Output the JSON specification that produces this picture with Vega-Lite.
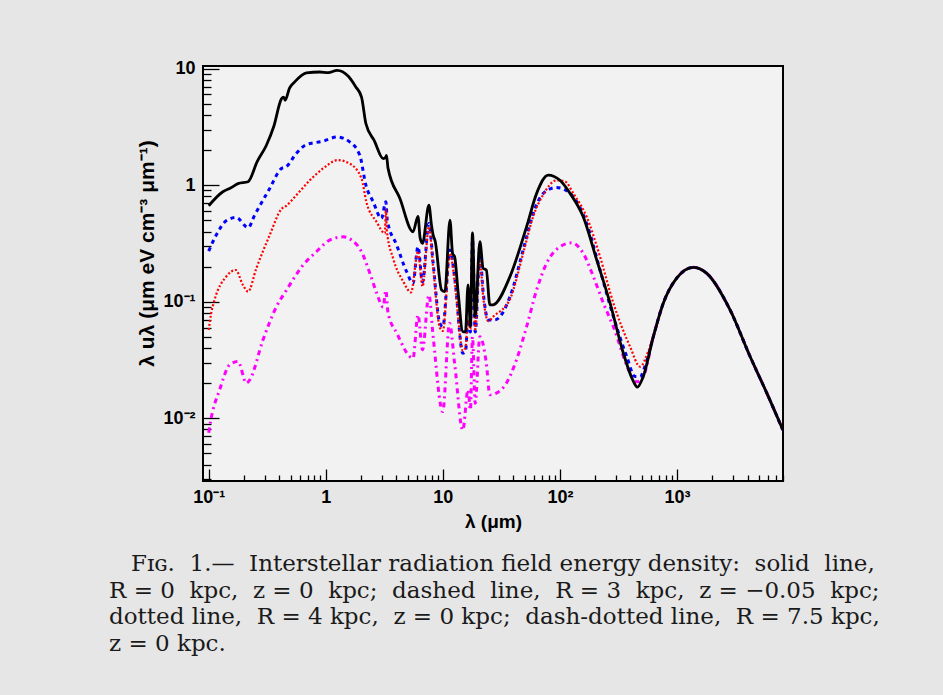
{
  "$schema": "https://vega.github.io/schema/vega-lite/v6.json",
  "width": 580,
  "height": 415,
  "autosize": "none",
  "padding": {"left": 203, "top": 66, "right": 160, "bottom": 214},
  "background": "#e6e6e6",
  "config": {
    "view": {"fill": "#f2f2f2", "stroke": "#000000", "strokeWidth": 2},
    "axis": {"grid": false, "domain": false, "labelFont": "Liberation Sans", "labelFontWeight": "bold", "labelFontSize": 18, "labelColor": "#000000", "tickColor": "#000000", "tickWidth": 1.3, "titleFont": "Liberation Sans", "titleFontWeight": "bold", "titleFontSize": 19, "titleColor": "#000000", "labelFlush": false, "labelOverlap": false, "labelBound": false}
  },
  "title": {
    "text": ["\u200b\u00a0\u00a0\u00a0Fɪɢ.\u00a0 1.—\u00a0 Interstellar radiation field energy density:\u00a0 solid\u00a0 line,", "R = 0\u00a0 kpc,\u00a0 z = 0\u00a0 kpc;\u00a0 dashed\u00a0 line,\u00a0 R = 3\u00a0 kpc,\u00a0 z = −0.05\u00a0 kpc;", "dotted line,\u00a0 R = 4 kpc,\u00a0 z = 0 kpc;\u00a0 dash-dotted line,\u00a0 R = 7.5 kpc,", "z = 0 kpc."],
    "orient": "bottom", "anchor": "start", "frame": "group", "align": "left", "dx": -94, "offset": 22,
    "font": "DejaVu Serif", "fontSize": 23, "fontWeight": "normal", "lineHeight": 26.7, "color": "#1a1a1a", "baseline": "top"
  },
  "data": {"values": [
    {"s": "solid", "lam": 0.1, "u": 0.665}, {"s": "solid", "lam": 0.132, "u": 0.877}, {"s": "solid", "lam": 0.155, "u": 0.95}, {"s": "solid", "lam": 0.178, "u": 1.03}, {"s": "solid", "lam": 0.217, "u": 1.07}, {"s": "solid", "lam": 0.26, "u": 1.6}, {"s": "solid", "lam": 0.311, "u": 2.2}, {"s": "solid", "lam": 0.36, "u": 3.2}, {"s": "solid", "lam": 0.418, "u": 5.5}, {"s": "solid", "lam": 0.437, "u": 5.7}, {"s": "solid", "lam": 0.45, "u": 5.35}, {"s": "solid", "lam": 0.49, "u": 6.8}, {"s": "solid", "lam": 0.543, "u": 7.7}, {"s": "solid", "lam": 0.684, "u": 9.2}, {"s": "solid", "lam": 0.889, "u": 9.35}, {"s": "solid", "lam": 1.05, "u": 9.25}, {"s": "solid", "lam": 1.25, "u": 9.67}, {"s": "solid", "lam": 1.55, "u": 8.64}, {"s": "solid", "lam": 1.8, "u": 7.0}, {"s": "solid", "lam": 2.02, "u": 5.7}, {"s": "solid", "lam": 2.2, "u": 3.38}, {"s": "solid", "lam": 2.6, "u": 2.4}, {"s": "solid", "lam": 3.09, "u": 1.69}, {"s": "solid", "lam": 3.26, "u": 1.75}, {"s": "solid", "lam": 3.3, "u": 1.8}, {"s": "solid", "lam": 3.4, "u": 1.4}, {"s": "solid", "lam": 4.29, "u": 0.77}, {"s": "solid", "lam": 5.56, "u": 0.398}, {"s": "solid", "lam": 6.13, "u": 0.54}, {"s": "solid", "lam": 6.4, "u": 0.35}, {"s": "solid", "lam": 6.7, "u": 0.316}, {"s": "solid", "lam": 7.6, "u": 0.674}, {"s": "solid", "lam": 8.0, "u": 0.45}, {"s": "solid", "lam": 8.26, "u": 0.373}, {"s": "solid", "lam": 8.6, "u": 0.33}, {"s": "solid", "lam": 9.75, "u": 0.126}, {"s": "solid", "lam": 10.4, "u": 0.122}, {"s": "solid", "lam": 11.5, "u": 0.5}, {"s": "solid", "lam": 12.1, "u": 0.26}, {"s": "solid", "lam": 12.6, "u": 0.243}, {"s": "solid", "lam": 13.5, "u": 0.12}, {"s": "solid", "lam": 14.8, "u": 0.0553}, {"s": "solid", "lam": 15.6, "u": 0.055}, {"s": "solid", "lam": 16.4, "u": 0.139}, {"s": "solid", "lam": 17.2, "u": 0.061}, {"s": "solid", "lam": 17.9, "u": 0.39}, {"s": "solid", "lam": 18.9, "u": 0.0744}, {"s": "solid", "lam": 20.7, "u": 0.327}, {"s": "solid", "lam": 22.1, "u": 0.193}, {"s": "solid", "lam": 23.5, "u": 0.187}, {"s": "solid", "lam": 25.2, "u": 0.0937}, {"s": "solid", "lam": 26.9, "u": 0.094}, {"s": "solid", "lam": 37.4, "u": 0.164}, {"s": "solid", "lam": 51.9, "u": 0.44}, {"s": "solid", "lam": 63.2, "u": 0.85}, {"s": "solid", "lam": 79.4, "u": 1.22}, {"s": "solid", "lam": 100, "u": 1.1}, {"s": "solid", "lam": 122, "u": 0.85}, {"s": "solid", "lam": 158, "u": 0.535}, {"s": "solid", "lam": 206, "u": 0.228}, {"s": "solid", "lam": 268, "u": 0.097}, {"s": "solid", "lam": 348, "u": 0.0361}, {"s": "solid", "lam": 418, "u": 0.0213}, {"s": "solid", "lam": 458, "u": 0.01845}, {"s": "solid", "lam": 515, "u": 0.0228}, {"s": "solid", "lam": 627, "u": 0.0501}, {"s": "solid", "lam": 763, "u": 0.097}, {"s": "solid", "lam": 993, "u": 0.159}, {"s": "solid", "lam": 1378, "u": 0.197}, {"s": "solid", "lam": 1794, "u": 0.175}, {"s": "solid", "lam": 2838, "u": 0.0849}, {"s": "solid", "lam": 4207, "u": 0.0338}, {"s": "solid", "lam": 5847, "u": 0.0164}, {"s": "solid", "lam": 8000, "u": 0.00795},

    {"s": "dashed", "lam": 0.1, "u": 0.272}, {"s": "dashed", "lam": 0.116, "u": 0.373}, {"s": "dashed", "lam": 0.141, "u": 0.494}, {"s": "dashed", "lam": 0.172, "u": 0.528}, {"s": "dashed", "lam": 0.217, "u": 0.431}, {"s": "dashed", "lam": 0.247, "u": 0.553}, {"s": "dashed", "lam": 0.332, "u": 0.937}, {"s": "dashed", "lam": 0.418, "u": 1.39}, {"s": "dashed", "lam": 0.46, "u": 1.44}, {"s": "dashed", "lam": 0.56, "u": 1.87}, {"s": "dashed", "lam": 0.684, "u": 2.23}, {"s": "dashed", "lam": 0.948, "u": 2.38}, {"s": "dashed", "lam": 1.25, "u": 2.59}, {"s": "dashed", "lam": 1.6, "u": 2.35}, {"s": "dashed", "lam": 1.95, "u": 1.81}, {"s": "dashed", "lam": 2.2, "u": 1.0}, {"s": "dashed", "lam": 2.54, "u": 0.72}, {"s": "dashed", "lam": 2.99, "u": 0.518}, {"s": "dashed", "lam": 3.26, "u": 0.72}, {"s": "dashed", "lam": 3.35, "u": 0.5}, {"s": "dashed", "lam": 4.03, "u": 0.306}, {"s": "dashed", "lam": 4.9, "u": 0.181}, {"s": "dashed", "lam": 5.56, "u": 0.144}, {"s": "dashed", "lam": 6.13, "u": 0.296}, {"s": "dashed", "lam": 6.7, "u": 0.148}, {"s": "dashed", "lam": 7.6, "u": 0.469}, {"s": "dashed", "lam": 8.26, "u": 0.213}, {"s": "dashed", "lam": 9.41, "u": 0.0653}, {"s": "dashed", "lam": 10.0, "u": 0.061}, {"s": "dashed", "lam": 11.5, "u": 0.277}, {"s": "dashed", "lam": 12.6, "u": 0.164}, {"s": "dashed", "lam": 14.8, "u": 0.0361}, {"s": "dashed", "lam": 15.6, "u": 0.037}, {"s": "dashed", "lam": 16.4, "u": 0.07}, {"s": "dashed", "lam": 17.2, "u": 0.055}, {"s": "dashed", "lam": 17.9, "u": 0.34}, {"s": "dashed", "lam": 18.9, "u": 0.055}, {"s": "dashed", "lam": 20.7, "u": 0.25}, {"s": "dashed", "lam": 22.1, "u": 0.12}, {"s": "dashed", "lam": 24.4, "u": 0.0697}, {"s": "dashed", "lam": 27.7, "u": 0.0697}, {"s": "dashed", "lam": 37.4, "u": 0.11}, {"s": "dashed", "lam": 48.5, "u": 0.277}, {"s": "dashed", "lam": 59.1, "u": 0.572}, {"s": "dashed", "lam": 72, "u": 0.85}, {"s": "dashed", "lam": 93.6, "u": 0.955}, {"s": "dashed", "lam": 122, "u": 0.85}, {"s": "dashed", "lam": 169, "u": 0.469}, {"s": "dashed", "lam": 220, "u": 0.187}, {"s": "dashed", "lam": 286, "u": 0.0744}, {"s": "dashed", "lam": 372, "u": 0.0338}, {"s": "dashed", "lam": 437, "u": 0.0228}, {"s": "dashed", "lam": 483, "u": 0.0228}, {"s": "dashed", "lam": 550, "u": 0.031}, {"s": "dashed", "lam": 627, "u": 0.0501}, {"s": "dashed", "lam": 763, "u": 0.097}, {"s": "dashed", "lam": 993, "u": 0.159}, {"s": "dashed", "lam": 1378, "u": 0.197}, {"s": "dashed", "lam": 1794, "u": 0.175}, {"s": "dashed", "lam": 2838, "u": 0.0849}, {"s": "dashed", "lam": 4207, "u": 0.0338}, {"s": "dashed", "lam": 5847, "u": 0.0164}, {"s": "dashed", "lam": 8000, "u": 0.00795},

    {"s": "dotted", "lam": 0.1, "u": 0.0573}, {"s": "dotted", "lam": 0.105, "u": 0.0794}, {"s": "dotted", "lam": 0.112, "u": 0.103}, {"s": "dotted", "lam": 0.141, "u": 0.164}, {"s": "dotted", "lam": 0.17, "u": 0.187}, {"s": "dotted", "lam": 0.196, "u": 0.139}, {"s": "dotted", "lam": 0.217, "u": 0.122}, {"s": "dotted", "lam": 0.255, "u": 0.193}, {"s": "dotted", "lam": 0.332, "u": 0.373}, {"s": "dotted", "lam": 0.418, "u": 0.623}, {"s": "dotted", "lam": 0.46, "u": 0.665}, {"s": "dotted", "lam": 0.56, "u": 0.82}, {"s": "dotted", "lam": 0.73, "u": 1.1}, {"s": "dotted", "lam": 0.948, "u": 1.39}, {"s": "dotted", "lam": 1.27, "u": 1.64}, {"s": "dotted", "lam": 1.6, "u": 1.53}, {"s": "dotted", "lam": 2.02, "u": 1.14}, {"s": "dotted", "lam": 2.22, "u": 0.72}, {"s": "dotted", "lam": 2.71, "u": 0.485}, {"s": "dotted", "lam": 3.2, "u": 0.386}, {"s": "dotted", "lam": 3.26, "u": 0.62}, {"s": "dotted", "lam": 3.33, "u": 0.4}, {"s": "dotted", "lam": 3.76, "u": 0.235}, {"s": "dotted", "lam": 4.6, "u": 0.148}, {"s": "dotted", "lam": 5.35, "u": 0.12}, {"s": "dotted", "lam": 6.13, "u": 0.27}, {"s": "dotted", "lam": 6.7, "u": 0.135}, {"s": "dotted", "lam": 7.6, "u": 0.44}, {"s": "dotted", "lam": 8.26, "u": 0.2}, {"s": "dotted", "lam": 9.41, "u": 0.06}, {"s": "dotted", "lam": 10.0, "u": 0.056}, {"s": "dotted", "lam": 11.5, "u": 0.26}, {"s": "dotted", "lam": 12.6, "u": 0.15}, {"s": "dotted", "lam": 14.8, "u": 0.038}, {"s": "dotted", "lam": 15.6, "u": 0.04}, {"s": "dotted", "lam": 16.4, "u": 0.07}, {"s": "dotted", "lam": 17.2, "u": 0.058}, {"s": "dotted", "lam": 17.9, "u": 0.32}, {"s": "dotted", "lam": 18.9, "u": 0.058}, {"s": "dotted", "lam": 20.7, "u": 0.23}, {"s": "dotted", "lam": 22.1, "u": 0.11}, {"s": "dotted", "lam": 24.4, "u": 0.068}, {"s": "dotted", "lam": 26.9, "u": 0.0744}, {"s": "dotted", "lam": 37.4, "u": 0.105}, {"s": "dotted", "lam": 48.5, "u": 0.26}, {"s": "dotted", "lam": 59.1, "u": 0.54}, {"s": "dotted", "lam": 72, "u": 0.83}, {"s": "dotted", "lam": 93.6, "u": 1.1}, {"s": "dotted", "lam": 110, "u": 1.08}, {"s": "dotted", "lam": 130, "u": 0.85}, {"s": "dotted", "lam": 169, "u": 0.535}, {"s": "dotted", "lam": 220, "u": 0.243}, {"s": "dotted", "lam": 286, "u": 0.097}, {"s": "dotted", "lam": 397, "u": 0.0411}, {"s": "dotted", "lam": 483, "u": 0.0277}, {"s": "dotted", "lam": 567, "u": 0.0373}, {"s": "dotted", "lam": 627, "u": 0.0501}, {"s": "dotted", "lam": 763, "u": 0.097}, {"s": "dotted", "lam": 993, "u": 0.159}, {"s": "dotted", "lam": 1378, "u": 0.197}, {"s": "dotted", "lam": 1794, "u": 0.175}, {"s": "dotted", "lam": 2838, "u": 0.0849}, {"s": "dotted", "lam": 4207, "u": 0.0338}, {"s": "dotted", "lam": 5847, "u": 0.0164}, {"s": "dotted", "lam": 8000, "u": 0.00795},

    {"s": "dashdot", "lam": 0.1, "u": 0.0075}, {"s": "dashdot", "lam": 0.105, "u": 0.01}, {"s": "dashdot", "lam": 0.124, "u": 0.0175}, {"s": "dashdot", "lam": 0.151, "u": 0.0287}, {"s": "dashdot", "lam": 0.178, "u": 0.0306}, {"s": "dashdot", "lam": 0.21, "u": 0.02}, {"s": "dashdot", "lam": 0.224, "u": 0.0213}, {"s": "dashdot", "lam": 0.291, "u": 0.047}, {"s": "dashdot", "lam": 0.379, "u": 0.0906}, {"s": "dashdot", "lam": 0.46, "u": 0.125}, {"s": "dashdot", "lam": 0.64, "u": 0.206}, {"s": "dashdot", "lam": 0.83, "u": 0.268}, {"s": "dashdot", "lam": 1.08, "u": 0.338}, {"s": "dashdot", "lam": 1.41, "u": 0.36}, {"s": "dashdot", "lam": 1.66, "u": 0.338}, {"s": "dashdot", "lam": 2.02, "u": 0.268}, {"s": "dashdot", "lam": 2.41, "u": 0.169}, {"s": "dashdot", "lam": 2.71, "u": 0.12}, {"s": "dashdot", "lam": 3.09, "u": 0.09}, {"s": "dashdot", "lam": 3.26, "u": 0.125}, {"s": "dashdot", "lam": 3.4, "u": 0.08}, {"s": "dashdot", "lam": 4.03, "u": 0.054}, {"s": "dashdot", "lam": 5.56, "u": 0.0327}, {"s": "dashdot", "lam": 6.13, "u": 0.0769}, {"s": "dashdot", "lam": 6.7, "u": 0.0386}, {"s": "dashdot", "lam": 7.6, "u": 0.114}, {"s": "dashdot", "lam": 8.26, "u": 0.0501}, {"s": "dashdot", "lam": 9.98, "u": 0.0114}, {"s": "dashdot", "lam": 11.4, "u": 0.0653}, {"s": "dashdot", "lam": 12.6, "u": 0.0296}, {"s": "dashdot", "lam": 14.8, "u": 0.0079}, {"s": "dashdot", "lam": 16.4, "u": 0.0175}, {"s": "dashdot", "lam": 17.2, "u": 0.0118}, {"s": "dashdot", "lam": 17.9, "u": 0.05}, {"s": "dashdot", "lam": 18.9, "u": 0.0134}, {"s": "dashdot", "lam": 20.7, "u": 0.05}, {"s": "dashdot", "lam": 23.5, "u": 0.0296}, {"s": "dashdot", "lam": 25.2, "u": 0.0159}, {"s": "dashdot", "lam": 28.6, "u": 0.0164}, {"s": "dashdot", "lam": 34.9, "u": 0.02}, {"s": "dashdot", "lam": 42.5, "u": 0.0316}, {"s": "dashdot", "lam": 51.9, "u": 0.061}, {"s": "dashdot", "lam": 63.2, "u": 0.126}, {"s": "dashdot", "lam": 76.8, "u": 0.213}, {"s": "dashdot", "lam": 100, "u": 0.296}, {"s": "dashdot", "lam": 126, "u": 0.32}, {"s": "dashdot", "lam": 158, "u": 0.26}, {"s": "dashdot", "lam": 193, "u": 0.164}, {"s": "dashdot", "lam": 235, "u": 0.097}, {"s": "dashdot", "lam": 286, "u": 0.061}, {"s": "dashdot", "lam": 397, "u": 0.0245}, {"s": "dashdot", "lam": 455, "u": 0.0205}, {"s": "dashdot", "lam": 515, "u": 0.0228}, {"s": "dashdot", "lam": 627, "u": 0.0501}, {"s": "dashdot", "lam": 763, "u": 0.097}, {"s": "dashdot", "lam": 993, "u": 0.159}, {"s": "dashdot", "lam": 1378, "u": 0.197}, {"s": "dashdot", "lam": 1794, "u": 0.175}, {"s": "dashdot", "lam": 2838, "u": 0.0849}, {"s": "dashdot", "lam": 4207, "u": 0.0338}, {"s": "dashdot", "lam": 5847, "u": 0.0164}, {"s": "dashdot", "lam": 8000, "u": 0.00795}
  ]},
  "resolve": {"axis": {"x": "independent", "y": "independent"}},
  "layer": [
    {
      "transform": [{"filter": "datum.s == 'dashdot'"}],
      "mark": {"type": "line", "color": "#ff00ff", "strokeWidth": 3, "strokeDash": [5, 4, 2, 4], "interpolate": "monotone", "clip": true},
      "encoding": {
        "x": {"field": "lam", "type": "quantitative", "scale": {"type": "log", "domain": [0.0894, 8035], "nice": false},
          "axis": {"orient": "bottom", "values": [0.1, 1, 10, 100, 1000], "ticks": false, "labelPadding": 7,
            "labelExpr": "datum.value < 0.5 ? '10⁻¹' : datum.value < 5 ? '1' : datum.value < 50 ? '10' : datum.value < 500 ? '10²' : '10³'",
            "title": "λ (μm)", "titleY": 46, "titleBaseline": "alphabetic"}},
        "y": {"field": "u", "type": "quantitative", "scale": {"type": "log", "domain": [0.00289, 10.53], "nice": false},
          "axis": {"orient": "left", "values": [0.01, 0.1, 1, 10], "ticks": false, "labelPadding": 8,
            "labelExpr": "datum.value < 0.05 ? '10⁻²' : datum.value < 0.5 ? '10⁻¹' : datum.value < 5 ? '1' : '10'",
            "title": "λ uλ (μm eV cm⁻³ μm⁻¹)", "titleFontSize": 21, "titleAngle": -90, "titleX": -50, "titleY": 187, "titleAlign": "center", "titleBaseline": "alphabetic"}}
      }
    },
    {
      "transform": [{"filter": "datum.s == 'dashed'"}],
      "mark": {"type": "line", "color": "#0000ff", "strokeWidth": 3, "strokeDash": [4, 4], "interpolate": "monotone", "clip": true},
      "encoding": {
        "x": {"field": "lam", "type": "quantitative", "scale": {"type": "log", "domain": [0.0894, 8035], "nice": false},
          "axis": {"orient": "bottom", "values": [0.1, 1, 10, 100, 1000], "labels": false, "tickSize": -12, "title": null}},
        "y": {"field": "u", "type": "quantitative", "scale": {"type": "log", "domain": [0.00289, 10.53], "nice": false},
          "axis": {"orient": "left", "values": [0.01, 0.1, 1, 10], "labels": false, "tickSize": -16, "title": null}}
      }
    },
    {
      "transform": [{"filter": "datum.s == 'dotted'"}],
      "mark": {"type": "line", "color": "#ff0000", "strokeWidth": 2.2, "strokeDash": [2, 2], "interpolate": "monotone", "clip": true},
      "encoding": {
        "x": {"field": "lam", "type": "quantitative", "scale": {"type": "log", "domain": [0.0894, 8035], "nice": false},
          "axis": {"orient": "bottom", "values": [0.2, 0.3, 0.4, 0.5, 0.6, 0.7, 0.8, 0.9, 2, 3, 4, 5, 6, 7, 8, 9, 20, 30, 40, 50, 60, 70, 80, 90, 200, 300, 400, 500, 600, 700, 800, 900, 2000, 3000, 4000, 5000, 6000, 7000, 8000], "labels": false, "tickSize": -6, "title": null}},
        "y": {"field": "u", "type": "quantitative", "scale": {"type": "log", "domain": [0.00289, 10.53], "nice": false},
          "axis": {"orient": "left", "values": [0.003, 0.004, 0.005, 0.006, 0.007, 0.008, 0.009, 0.02, 0.03, 0.04, 0.05, 0.06, 0.07, 0.08, 0.09, 0.2, 0.3, 0.4, 0.5, 0.6, 0.7, 0.8, 0.9, 2, 3, 4, 5, 6, 7, 8, 9], "labels": false, "tickSize": -8, "title": null}}
      }
    },
    {
      "transform": [{"filter": "datum.s == 'solid'"}],
      "mark": {"type": "line", "color": "#000000", "strokeWidth": 2.8, "interpolate": "monotone", "clip": true},
      "encoding": {
        "x": {"field": "lam", "type": "quantitative", "scale": {"type": "log", "domain": [0.0894, 8035], "nice": false}, "axis": null},
        "y": {"field": "u", "type": "quantitative", "scale": {"type": "log", "domain": [0.00289, 10.53], "nice": false}, "axis": null}
      }
    }
  ]
}
